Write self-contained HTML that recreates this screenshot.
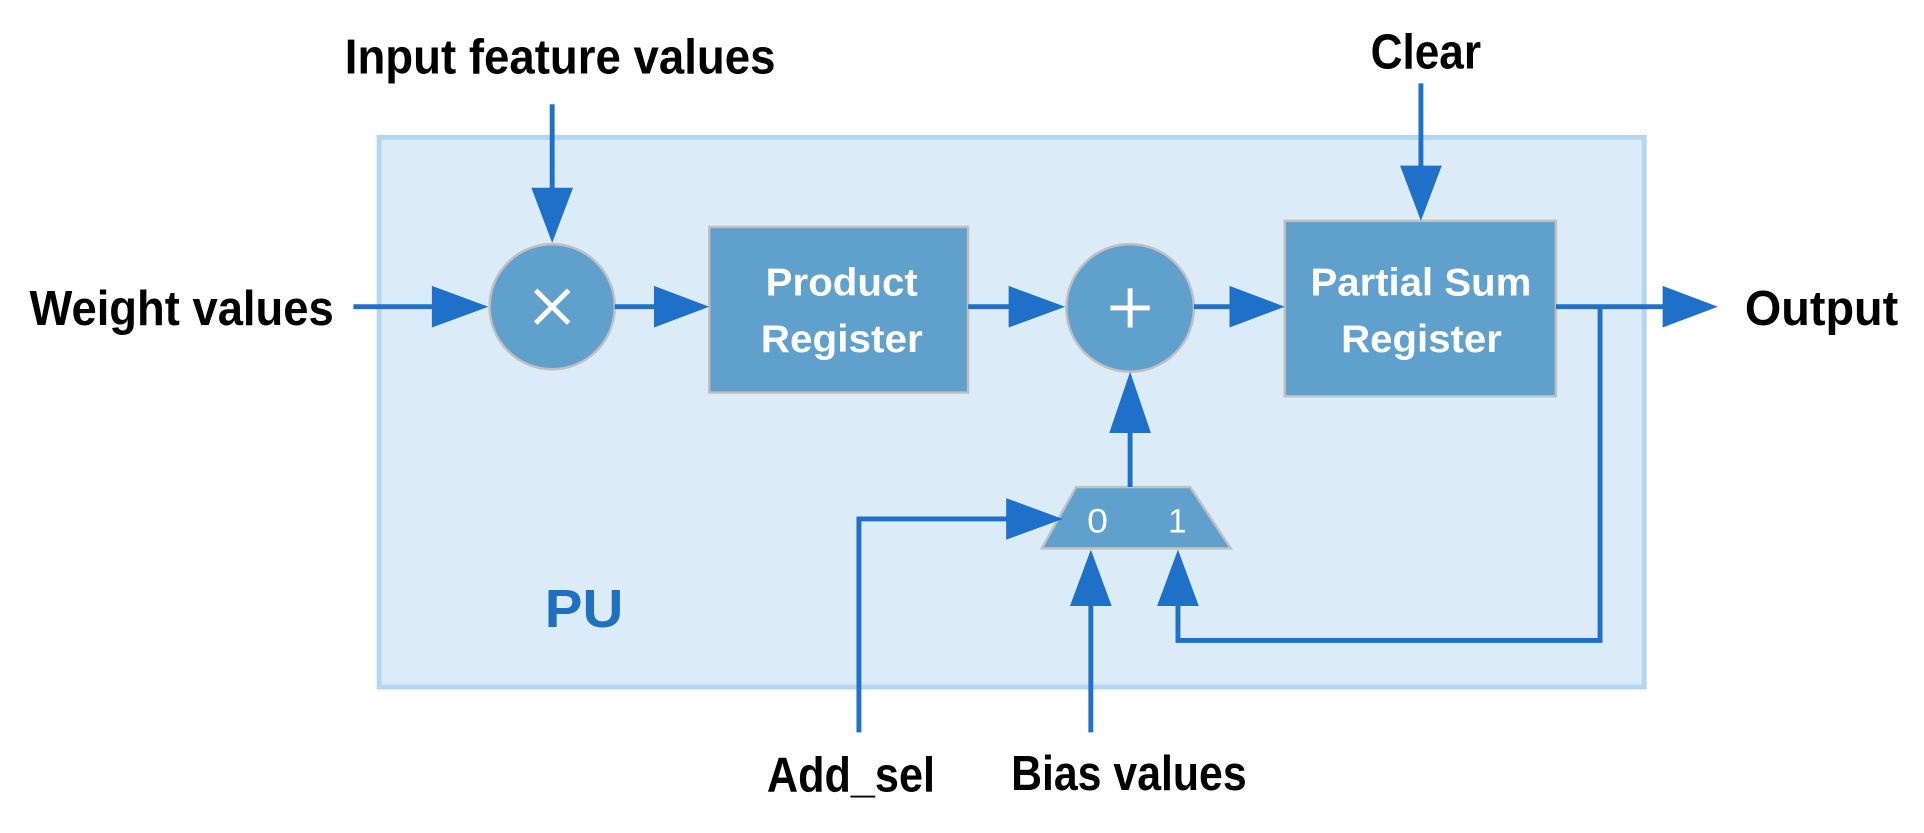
<!DOCTYPE html>
<html><head><meta charset="utf-8"><style>html,body{margin:0;padding:0;background:#fff}svg{display:block}</style></head>
<body>
<svg width="1924" height="833" viewBox="0 0 1568 679" preserveAspectRatio="none" xmlns="http://www.w3.org/2000/svg" font-family="Liberation Sans, sans-serif" font-weight="bold">
<rect x="0" y="0" width="1568" height="679" fill="#fff"/>
<rect x="309" y="112" width="1031" height="448" fill="#dbebf7" stroke="#b5d6f0" stroke-width="4"/>
<g fill="#5fa0cd" stroke="#c0c0c0" stroke-width="2">
<circle cx="450" cy="250" r="51"/>
<rect x="578" y="185" width="211" height="135"/>
<circle cx="921" cy="251" r="52"/>
<rect x="1047" y="180" width="221" height="143"/>
<polygon points="877,397 970,397 1003,447 849,447"/>
</g>
<g stroke="#fff" stroke-width="4" stroke-linecap="square">
<line x1="438" y1="238" x2="462" y2="262"/><line x1="462" y1="238" x2="438" y2="262"/>
<line x1="921" y1="237" x2="921" y2="265"/><line x1="907" y1="251" x2="935" y2="251"/>
</g>
<g stroke="#1f70c8" stroke-width="4" fill="none">
<line x1="288" y1="250" x2="360" y2="250"/>
<line x1="450" y1="85" x2="450" y2="160"/>
<line x1="501" y1="250" x2="540" y2="250"/>
<line x1="789" y1="250" x2="830" y2="250"/>
<line x1="973" y1="250" x2="1010" y2="250"/>
<line x1="1268" y1="250" x2="1360" y2="250"/>
<line x1="1158" y1="68" x2="1158" y2="140"/>
<line x1="921" y1="397" x2="921" y2="345"/>
<polyline points="700,597 700,423 828,423"/>
<line x1="889" y1="597" x2="889" y2="488"/>
<polyline points="1304,250 1304,522 960,522 960,488"/>
</g>
<g fill="#1f70c8">
<polygon points="352,233 398,250 352,267"/>
<polygon points="433,153 467,153 450,198"/>
<polygon points="533,233 578,250 533,267"/>
<polygon points="822,233 868,250 822,267"/>
<polygon points="1002,233 1047,250 1002,267"/>
<polygon points="1355,233 1400,250 1355,267"/>
<polygon points="1141,135 1175,135 1158,180"/>
<polygon points="904,353 938,353 921,303"/>
<polygon points="820,406 866,423 820,440"/>
<polygon points="872,494 906,494 889,448"/>
<polygon points="943,494 977,494 960,448"/>
</g>
<g fill="#fff" font-size="32">
<text x="624" y="241" textLength="124" lengthAdjust="spacingAndGlyphs">Product</text>
<text x="620" y="287" textLength="132" lengthAdjust="spacingAndGlyphs">Register</text>
<text x="1068" y="241" textLength="180" lengthAdjust="spacingAndGlyphs">Partial Sum</text>
<text x="1093" y="287" textLength="131" lengthAdjust="spacingAndGlyphs">Register</text>
<text x="886" y="434" font-size="28" font-weight="normal" textLength="17" lengthAdjust="spacingAndGlyphs">0</text>
<text x="952" y="434" font-size="28" font-weight="normal" textLength="15" lengthAdjust="spacingAndGlyphs">1</text>
</g>
<text x="444" y="511" fill="#1f70c1" font-size="44" textLength="64" lengthAdjust="spacingAndGlyphs">PU</text>
<g fill="#000" font-size="40">
<text x="281" y="60" textLength="351" lengthAdjust="spacingAndGlyphs">Input feature values</text>
<text x="1117" y="56" textLength="90" lengthAdjust="spacingAndGlyphs">Clear</text>
<text x="24" y="265" textLength="248" lengthAdjust="spacingAndGlyphs">Weight values</text>
<text x="1422" y="265" textLength="125" lengthAdjust="spacingAndGlyphs">Output</text>
<text x="625" y="645" textLength="137" lengthAdjust="spacingAndGlyphs">Add_sel</text>
<text x="824" y="644" textLength="192" lengthAdjust="spacingAndGlyphs">Bias values</text>
</g>
</svg>
</body></html>
